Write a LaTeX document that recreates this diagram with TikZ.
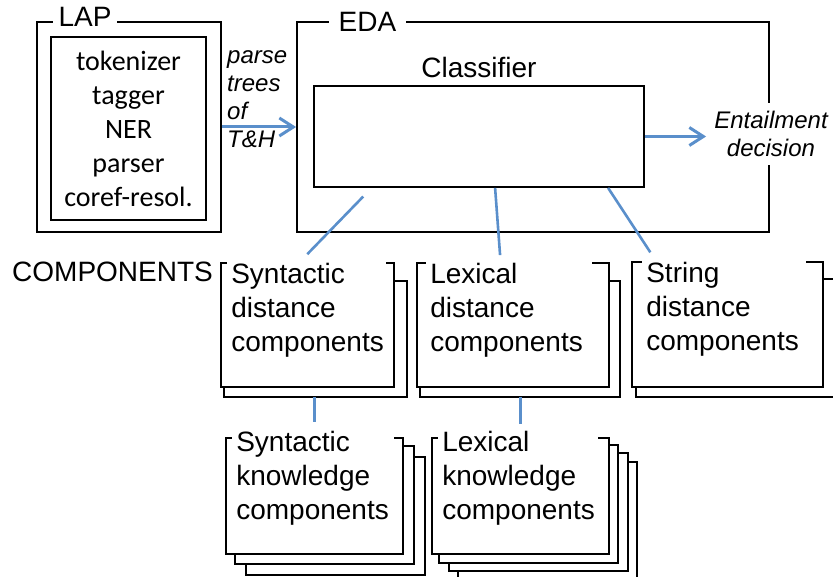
\documentclass[tikz,border=0pt]{standalone}
\usepackage{fontspec}
\setmainfont{Liberation Sans}
\newfontfamily\carlito{Carlito}
\usepackage{tikz}
\usetikzlibrary{arrows.meta,positioning,backgrounds}
\definecolor{edaBlue}{HTML}{5A8FCB}

\begin{document}
\begin{tikzpicture}[x=1pt, y=-1pt,
  font=\fontsize{28}{34}\selectfont,
  frame/.style={draw=black, line width=1.8pt, inner sep=0pt},
  sheet/.style={frame, fill=white},
  tag/.style={fill=white, inner xsep=6pt, inner ysep=0pt},
  blurb/.style={fill=white, anchor=north west, align=left, inner xsep=4pt, inner ysep=5pt},
  link/.style={draw=edaBlue, line width=2.6pt},
  arr/.style={link, line width=3pt, -{Straight Barb[length=14pt, width=18pt]}},
  note/.style={font=\itshape\fontsize{24}{28}\selectfont, align=left, inner sep=0pt}
]
  \useasboundingbox (0,0) rectangle (833,577);

  % LAP
  \node[frame, minimum width=184pt, minimum height=210pt] (lap) at (129,127) {};
  \node[frame, minimum width=155pt, minimum height=183pt, align=center,
        font=\carlito\fontsize{28}{34}\selectfont] (tools) at (128.5,128.5)
        {tokenizer\\tagger\\NER\\parser\\coref-resol.};
  \node[tag] (laptag) at (85,17) {LAP};

  % EDA
  \node[frame, minimum width=472pt, minimum height=210pt] (eda) at (533,127) {};
  \node[tag, inner xsep=10pt] (edatag) at (367.5,22) {EDA};
  \node[frame, minimum width=330pt, minimum height=101pt] (clf) at (479,136.5) {};
  \node[inner sep=0pt, above=7pt of clf] (clftag) {Classifier};
  \node[note, align=center, fill=white, inner xsep=2pt, inner ysep=8pt] (ent) at (771,134) {Entailment\\decision};
  \node[note, anchor=north west] (trees) at (227,50) {parse\\trees\\of\\T\&H};

  \draw[arr] (lap) -- (eda);
  \draw[arr, shorten >=6pt] (clf.east) -- (clf.east -| ent.west);

  % components
  \node[anchor=base west, inner sep=0pt] (comp) at (12,282) {COMPONENTS};

  \node[sheet, minimum width=173pt, minimum height=124pt] (syndist) at (307.5,325) {};
  \node[sheet, minimum width=192pt, minimum height=124pt] (lexdist) at (513,325) {};
  \node[sheet, minimum width=191pt, minimum height=125pt] (strdist) at (727.5,324.5) {};
  \node[sheet, minimum width=177pt, minimum height=116pt] (synknow) at (314.5,496) {};
  \node[sheet, minimum width=177pt, minimum height=116pt] (lexknow) at (520.5,496) {};

  \begin{scope}[on background layer]
    \clip (0,0) rectangle (833,577);
    \draw[sheet] ([xshift=4pt,yshift=-9pt]syndist.south west) rectangle ([xshift=12pt,yshift=-19pt]syndist.north east);
    \draw[sheet] ([xshift=4pt,yshift=-9pt]lexdist.south west) rectangle ([xshift=10pt,yshift=-19pt]lexdist.north east);
    \draw[sheet] ([xshift=5pt,yshift=-9pt]strdist.south west) rectangle ([xshift=25pt,yshift=-18pt]strdist.north east);
    \draw[sheet] ([xshift=21pt,yshift=-20pt]synknow.south west) rectangle ([xshift=21pt,yshift=-20pt]synknow.north east);
    \draw[sheet] ([xshift=10pt,yshift=-9pt]synknow.south west) rectangle ([xshift=10pt,yshift=-9pt]synknow.north east);
    \draw[sheet] ([xshift=27pt,yshift=-25pt]lexknow.south west) rectangle ([xshift=27pt,yshift=-25pt]lexknow.north east);
    \draw[sheet] ([xshift=18pt,yshift=-16pt]lexknow.south west) rectangle ([xshift=18pt,yshift=-16pt]lexknow.north east);
    \draw[sheet] ([xshift=8pt,yshift=-8pt]lexknow.south west) rectangle ([xshift=8pt,yshift=-8pt]lexknow.north east);
  \end{scope}

  \node[blurb, text width=151pt] (syndisttxt) at ([xshift=7pt,yshift=4pt]syndist.north west) {Syntactic\\distance\\components};
  \node[blurb, text width=158pt] (lexdisttxt) at ([xshift=10pt,yshift=4pt]lexdist.north west) {Lexical\\distance\\components};
  \node[blurb, text width=156pt] (strdisttxt) at ([xshift=11pt,yshift=4pt]strdist.north west) {String\\distance\\components};
  \node[blurb, text width=154pt] (synknowtxt) at ([xshift=7pt,yshift=11pt]synknow.north west) {Syntactic\\knowledge\\components};
  \node[blurb, text width=152pt] (lexknowtxt) at ([xshift=7pt,yshift=11pt]lexknow.north west) {Lexical\\knowledge\\components};

  \draw[link, shorten <=12pt, shorten >=11pt] ([xshift=58.5pt]clf.south west) -- ([xshift=79.5pt]syndist.north west);
  \draw[link, shorten >=7pt] ([xshift=182pt]clf.south west) -- ([xshift=84.5pt]lexdist.north west);
  \draw[link, shorten >=10.5pt] ([xshift=295pt]clf.south west) -- ([xshift=25pt]strdist.north west);
  \draw[link, shorten <=9pt, shorten >=15pt] (synknow.north |- syndist.south) -- (synknow.north);
  \draw[link, shorten <=9pt, shorten >=13pt] (lexknow.north |- lexdist.south) -- (lexknow.north);
\end{tikzpicture}
\end{document}
